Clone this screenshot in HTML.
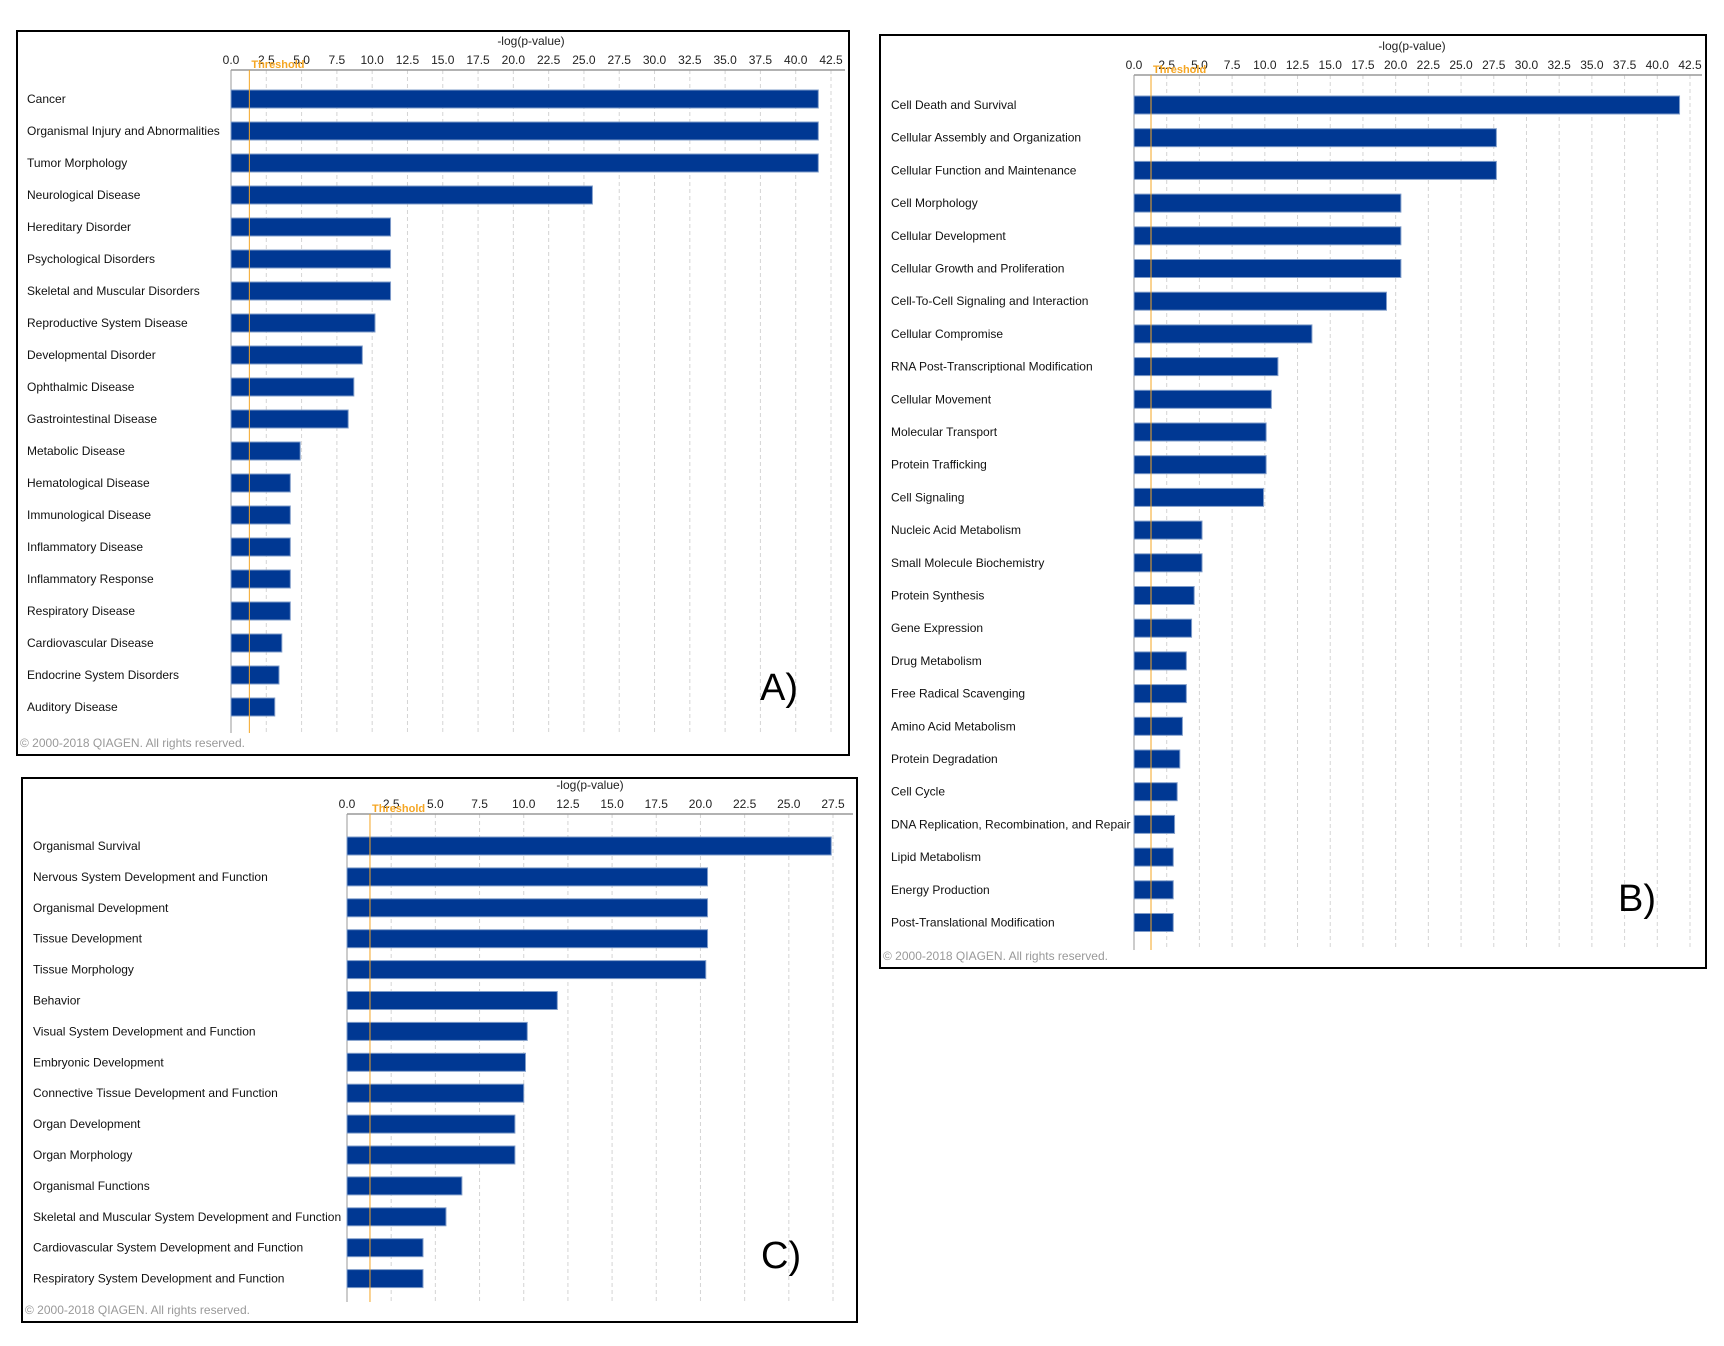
<!DOCTYPE html>
<html><head><meta charset="utf-8"><style>
body{margin:0;background:#fff;width:1724px;height:1346px;overflow:hidden;font-family:"Liberation Sans",sans-serif}
svg{position:absolute;left:0;top:0}
</style></head><body>
<svg id="s" width="1724" height="1346"></svg>
<script>
const catsA=["Cancer","Organismal Injury and Abnormalities","Tumor Morphology","Neurological Disease","Hereditary Disorder","Psychological Disorders","Skeletal and Muscular Disorders","Reproductive System Disease","Developmental Disorder","Ophthalmic Disease","Gastrointestinal Disease","Metabolic Disease","Hematological Disease","Immunological Disease","Inflammatory Disease","Inflammatory Response","Respiratory Disease","Cardiovascular Disease","Endocrine System Disorders","Auditory Disease"];
const valsA=[41.6,41.6,41.6,25.6,11.3,11.3,11.3,10.2,9.3,8.7,8.3,4.9,4.2,4.2,4.2,4.2,4.2,3.6,3.4,3.1];
const catsB=["Cell Death and Survival","Cellular Assembly and Organization","Cellular Function and Maintenance","Cell Morphology","Cellular Development","Cellular Growth and Proliferation","Cell-To-Cell Signaling and Interaction","Cellular Compromise","RNA Post-Transcriptional Modification","Cellular Movement","Molecular Transport","Protein Trafficking","Cell Signaling","Nucleic Acid Metabolism","Small Molecule Biochemistry","Protein Synthesis","Gene Expression","Drug Metabolism","Free Radical Scavenging","Amino Acid Metabolism","Protein Degradation","Cell Cycle","DNA Replication, Recombination, and Repair","Lipid Metabolism","Energy Production","Post-Translational Modification"];
const valsB=[41.7,27.7,27.7,20.4,20.4,20.4,19.3,13.6,11.0,10.5,10.1,10.1,9.9,5.2,5.2,4.6,4.4,4.0,4.0,3.7,3.5,3.3,3.1,3.0,3.0,3.0];
const catsC=["Organismal Survival","Nervous System Development and Function","Organismal Development","Tissue Development","Tissue Morphology","Behavior","Visual System Development and Function","Embryonic Development","Connective Tissue Development and Function","Organ Development","Organ Morphology","Organismal Functions","Skeletal and Muscular System Development and Function","Cardiovascular System Development and Function","Respiratory System Development and Function"];
const valsC=[27.4,20.4,20.4,20.4,20.3,11.9,10.2,10.1,10.0,9.5,9.5,6.5,5.6,4.3,4.3];
const ticksA=["0.0","2.5","5.0","7.5","10.0","12.5","15.0","17.5","20.0","22.5","25.0","27.5","30.0","32.5","35.0","37.5","40.0","42.5"];
const ticksC=["0.0","2.5","5.0","7.5","10.0","12.5","15.0","17.5","20.0","22.5","25.0","27.5"];
const threshold=1.3;
const NS="http://www.w3.org/2000/svg";
const svg=document.getElementById('s');
function mk(t,a,p){const e=document.createElementNS(NS,t);for(const k in a)e.setAttribute(k,a[k]);(p||svg).appendChild(e);return e;}
function panel(id,cfg,cats,vals,ticks){
  const g=mk('g',{});
  
  
  const r=mk('rect',{x:cfg.L,y:cfg.T,width:cfg.R-cfg.L,height:cfg.B-cfg.T,fill:'#fff',stroke:'#000','stroke-width':2},g);
  
  
  const max=parseFloat(ticks[ticks.length-1]);
  const x=v=>cfg.ax+(v/max)*(cfg.axEnd-cfg.ax);
  ticks.forEach(t=>{
    const v=parseFloat(t);
    const gl=mk('line',{x1:x(v),x2:x(v),y1:cfg.axY,y2:cfg.plotB,stroke:'#d4d4d4','stroke-dasharray':'4,3'},g);
    
    
    const tl=mk('text',{x:x(v),y:cfg.axY-6,'font-size':12,'text-anchor':'middle',fill:'#222'},g);
    tl.textContent=t;
    
    
  });
  const al=mk('line',{x1:cfg.ax,x2:cfg.R-4,y1:cfg.axY,y2:cfg.axY,stroke:'#999','stroke-width':1.5},g);
  
  
  const yl=mk('line',{x1:cfg.ax,x2:cfg.ax,y1:cfg.axY,y2:cfg.plotB,stroke:'#999'},g);
  
  
  const tt=mk('text',{x:(cfg.ax+cfg.axEnd)/2,y:cfg.axY-25,'font-size':12,'text-anchor':'middle',fill:'#222'},g);
  tt.textContent='-log(p-value)';
  
  
  cats.forEach((c,i)=>{
    const cy=cfg.y0+i*cfg.pitch;
    const b=mk('rect',{x:cfg.ax,y:cy-9,width:x(vals[i])-cfg.ax,height:18,fill:'#003893',stroke:'#7f9cc9','stroke-width':1},g);
    
    
    const l=mk('text',{x:cfg.lx,y:cy+4,'font-size':12,fill:'#111'},g);
    l.textContent=c;
    
    
  });
  const th=mk('line',{x1:x(threshold),x2:x(threshold),y1:cfg.axY,y2:cfg.plotB,stroke:'#f5a623','stroke-width':1},g);
  
  
  const tht=mk('text',{x:x(threshold)+2,y:cfg.axY-2,'font-size':11,fill:'#f5a623','font-weight':'bold'},g);
  tht.textContent='Threshold';
  
  
  const cp=mk('text',{x:cfg.L+3,y:cfg.B-8,'font-size':12,fill:'#999'},g);
  cp.textContent='© 2000-2018 QIAGEN. All rights reserved.';
  
  
  const pl=mk('text',{x:cfg.px,y:cfg.py,'font-size':38,fill:'#000'},g);
  pl.textContent=id+')';
  
  
}
panel('A',{L:17,T:31,R:849,B:755,ax:231,axEnd:831,axY:70,plotB:733,y0:99,pitch:32,lx:27,px:760,py:700},catsA,valsA,ticksA);
panel('B',{L:880,T:35,R:1706,B:968,ax:1134,axEnd:1690,axY:75,plotB:950,y0:105,pitch:32.7,lx:891,px:1618,py:911},catsB,valsB,ticksA);
panel('C',{L:22,T:778,R:857,B:1322,ax:347,axEnd:833,axY:814,plotB:1302,y0:846,pitch:30.9,lx:33,px:761,py:1268},catsC,valsC,ticksC);
</script>
</body></html>
